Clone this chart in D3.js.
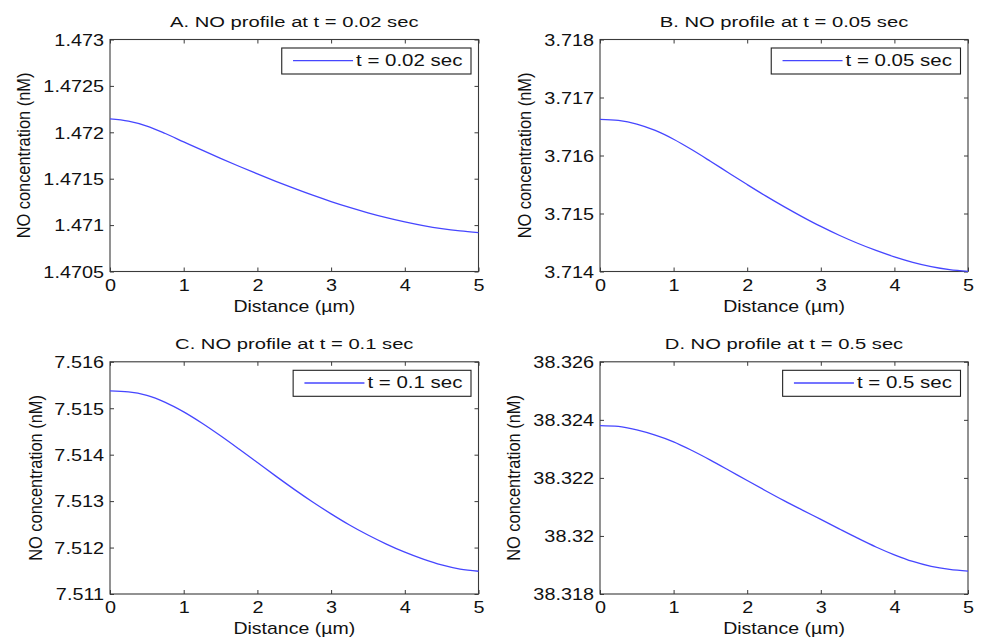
<!DOCTYPE html>
<html>
<head>
<meta charset="utf-8">
<script src="https://cdn.jsdelivr.net/npm/d3@7"></script>
<style>
  html, body { margin: 0; padding: 0; background: #ffffff; }
  svg { display: block; }
  text { font-family: "Liberation Sans", Arial, Helvetica, sans-serif; fill: #111; }
</style>
</head>
<body>
<svg id="chart" width="984" height="638"></svg>
<script>
// Distance along the profile (µm)
const distance = [0, 0.25, 0.5, 0.75, 1, 1.25, 1.5, 1.75, 2, 2.25, 2.5,
                  2.75, 3, 3.25, 3.5, 3.75, 4, 4.25, 4.5, 4.75, 5];

// NO concentration (nM) at each distance, one array per time point
const concA = [1.472144, 1.472120, 1.472067, 1.471987, 1.471897, 1.471807, 1.471719,
               1.471634, 1.471552, 1.471472, 1.471395, 1.471322, 1.471254, 1.471191,
               1.471133, 1.471081, 1.471035, 1.470995, 1.470962, 1.470937, 1.470920];
const concB = [3.716624, 3.716604, 3.716542, 3.716432, 3.716280, 3.716098, 3.715901,
               3.715699, 3.715499, 3.715304, 3.715119, 3.714943, 3.714777, 3.714625,
               3.714487, 3.714363, 3.714253, 3.714159, 3.714085, 3.714033, 3.714001];
const concC = [7.515372, 7.515352, 7.515277, 7.515127, 7.514922, 7.514677, 7.514407,
               7.514122, 7.513830, 7.513538, 7.513253, 7.512981, 7.512726, 7.512486,
               7.512270, 7.512075, 7.511900, 7.511750, 7.511625, 7.511535, 7.511490];
const concD = [38.323804, 38.323774, 38.323654, 38.323474, 38.323244, 38.322944, 38.322614,
               38.322264, 38.321909, 38.321559, 38.321217, 38.320890, 38.320570, 38.320245,
               38.319925, 38.319620, 38.319350, 38.319120, 38.318950, 38.318845, 38.318787];

const panelTitles = ["A. NO profile at t = 0.02 sec", "B. NO profile at t = 0.05 sec",
                     "C. NO profile at t = 0.1 sec", "D. NO profile at t = 0.5 sec"];
const legendLabels = ["t = 0.02 sec", "t = 0.05 sec", "t = 0.1 sec", "t = 0.5 sec"];

const xTicks = [0, 1, 2, 3, 4, 5];
const xTickLabels = ["0", "1", "2", "3", "4", "5"];

const yTicksA = [1.4705, 1.471, 1.4715, 1.472, 1.4725, 1.473];
const yTickLabelsA = ["1.4705", "1.471", "1.4715", "1.472", "1.4725", "1.473"];
const yTicksB = [3.714, 3.715, 3.716, 3.717, 3.718];
const yTickLabelsB = ["3.714", "3.715", "3.716", "3.717", "3.718"];
const yTicksC = [7.511, 7.512, 7.513, 7.514, 7.515, 7.516];
const yTickLabelsC = ["7.511", "7.512", "7.513", "7.514", "7.515", "7.516"];
const yTicksD = [38.318, 38.32, 38.322, 38.324, 38.326];
const yTickLabelsD = ["38.318", "38.32", "38.322", "38.324", "38.326"];

const xLabel = "Distance (µm)";
const yLabel = "NO concentration (nM)";

// Panel layout (pixel frame of each axes box)
const layout = [
  { left: 110, right: 478.5, top: 39.5, bottom: 271.5, ylabelGap: 80 },
  { left: 600, right: 968,   top: 39.5, bottom: 271.5, ylabelGap: 69 },
  { left: 110, right: 478.5, top: 361.8, bottom: 594,  ylabelGap: 68.5 },
  { left: 600, right: 968,   top: 361.8, bottom: 594,  ylabelGap: 80 }
];

const panels = [
  { values: concA, yTicks: yTicksA, yLabels: yTickLabelsA },
  { values: concB, yTicks: yTicksB, yLabels: yTickLabelsB },
  { values: concC, yTicks: yTicksC, yLabels: yTickLabelsC },
  { values: concD, yTicks: yTicksD, yLabels: yTickLabelsD }
];

const LABEL_SIZE = 16, LABEL_SX = 1.24;
const TITLE_SIZE = 15.3, TITLE_SX = 1.32;
const AXIS_COLOR = "#3a3a3a";
const LINE_COLOR = "#4646ff";

const svg = d3.select("#chart");

// Text drawn with a slight horizontal widening
function wideText(g, x, y, str, size, sx, anchor, rotate) {
  return g.append("text")
    .attr("transform", `translate(${x},${y}) scale(${sx},1)` + (rotate ? ` rotate(${rotate})` : ""))
    .attr("text-anchor", anchor)
    .style("font-size", size + "px")
    .text(str);
}

panels.forEach((p, i) => {
  const L = layout[i];
  const g = svg.append("g");

  const x = d3.scaleLinear().domain([xTicks[0], xTicks[xTicks.length - 1]]).range([L.left, L.right]);
  const y = d3.scaleLinear().domain([p.yTicks[0], p.yTicks[p.yTicks.length - 1]]).range([L.bottom, L.top]);

  // Axes: inward ticks on all four sides
  const tick = 4;
  const bottomAxis = g.append("g").attr("transform", `translate(0,${L.bottom})`)
    .call(d3.axisBottom(x).tickValues(xTicks).tickSize(-tick).tickSizeOuter(0)
      .tickFormat((d, k) => xTickLabels[k]));
  const topAxis = g.append("g").attr("transform", `translate(0,${L.top})`)
    .call(d3.axisTop(x).tickValues(xTicks).tickSize(-tick).tickSizeOuter(0).tickFormat(""));
  const leftAxis = g.append("g").attr("transform", `translate(${L.left},0)`)
    .call(d3.axisLeft(y).tickValues(p.yTicks).tickSize(-tick).tickSizeOuter(0)
      .tickFormat((d, k) => p.yLabels[k]));
  const rightAxis = g.append("g").attr("transform", `translate(${L.right},0)`)
    .call(d3.axisRight(y).tickValues(p.yTicks).tickSize(-tick).tickSizeOuter(0).tickFormat(""));

  [bottomAxis, topAxis, leftAxis, rightAxis].forEach(a => {
    a.select(".domain").remove();
    a.selectAll("line").attr("stroke", AXIS_COLOR).attr("stroke-width", 1);
    a.attr("font-family", null).attr("font-size", null);
  });

  bottomAxis.selectAll("text")
    .attr("y", 19.5).attr("dy", null)
    .attr("transform", `scale(${LABEL_SX},1)`)
    .style("font-size", LABEL_SIZE + "px").attr("fill", "#111");
  leftAxis.selectAll("text")
    .attr("x", -6 / LABEL_SX).attr("dy", "0.36em")
    .attr("transform", `scale(${LABEL_SX},1)`)
    .style("font-size", LABEL_SIZE + "px").attr("fill", "#111");

  // Axes box
  g.append("rect")
    .attr("x", L.left).attr("y", L.top)
    .attr("width", L.right - L.left).attr("height", L.bottom - L.top)
    .attr("fill", "none").attr("stroke", AXIS_COLOR).attr("stroke-width", 1.1);

  // Profile curve
  const line = d3.line()
    .x((d, k) => x(distance[k]))
    .y(d => y(d))
    .curve(d3.curveMonotoneX);
  g.append("path")
    .datum(p.values)
    .attr("d", line)
    .attr("fill", "none")
    .attr("stroke", LINE_COLOR)
    .attr("stroke-width", 1.3);

  // Title and axis labels
  const cx = (L.left + L.right) / 2;
  wideText(g, cx, L.top - 12.6, panelTitles[i], TITLE_SIZE, TITLE_SX, "middle");
  wideText(g, cx, L.bottom + 40, xLabel, LABEL_SIZE, 1.22, "middle");
  wideText(g, L.left - L.ylabelGap, (L.top + L.bottom) / 2, yLabel, 16.4, 1.15, "middle", -90);

  // Legend
  const lg = g.append("g");
  const boxRight = L.right - 7.5;
  const boxTop = L.top + 8.5;
  const lt = lg.append("text")
    .attr("text-anchor", "start")
    .style("font-size", LABEL_SIZE + "px")
    .text(legendLabels[i]);
  const sx = 1.28;
  const tw = lt.node().getComputedTextLength() * sx;
  const textStart = boxRight - 8.5 - tw;
  lt.attr("transform", `translate(${textStart},${boxTop + 18}) scale(${sx},1)`);
  const lineEnd = textStart - 3, lineStart = lineEnd - 60;
  lg.insert("rect", "text")
    .attr("x", lineStart - 11.3).attr("y", boxTop)
    .attr("width", boxRight - (lineStart - 11.3)).attr("height", 26)
    .attr("fill", "#fff").attr("stroke", "#222").attr("stroke-width", 1.1);
  lg.insert("line", "text")
    .attr("x1", lineStart).attr("x2", lineEnd)
    .attr("y1", boxTop + 12.7).attr("y2", boxTop + 12.7)
    .attr("stroke", LINE_COLOR).attr("stroke-width", 1.3);
});
</script>
</body>
</html>
